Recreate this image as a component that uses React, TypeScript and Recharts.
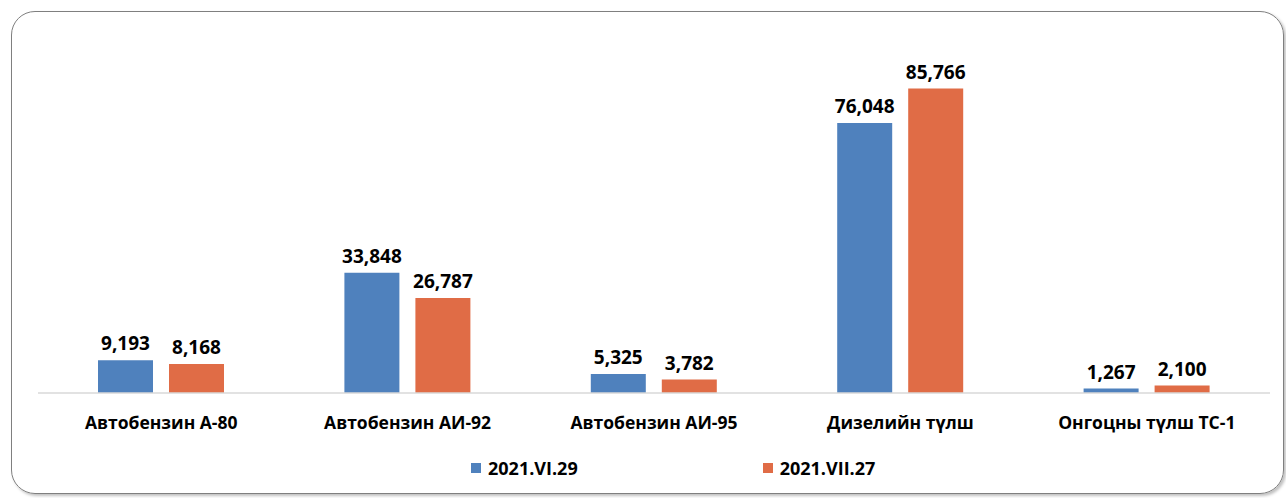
import { BarChart, Bar, XAxis, YAxis, LabelList } from "recharts";

const categories = [
  "Автобензин А-80",
  "Автобензин АИ-92",
  "Автобензин АИ-95",
  "Дизелийн түлш",
  "Онгоцны түлш ТС-1",
];
const june = [9193, 33848, 5325, 76048, 1267];
const july = [8168, 26787, 3782, 85766, 2100];
const seriesNames = ["2021.VI.29", "2021.VII.27"];

const BLUE = "#4F81BD";
const ORANGE = "#E06C46";
const FONT = "'Open Sans', sans-serif";

const data = categories.map((name, i) => ({ name, june: june[i], july: july[i] }));

const fmt = (v: number) => v.toLocaleString("en-US");

function Legend() {
  const items = [
    { label: seriesNames[0], color: BLUE },
    { label: seriesNames[1], color: ORANGE },
  ];
  return (
    <div
      style={{
        position: "absolute",
        top: 456,
        left: 471,
        display: "flex",
        gap: 185,
        fontFamily: FONT,
        fontWeight: 700,
        fontSize: 18,
        color: "#000",
      }}
    >
      {items.map((it) => (
        <div key={it.label} style={{ display: "flex", alignItems: "center", gap: 7 }}>
          <span style={{ width: 10, height: 10, background: it.color, display: "inline-block" }} />
          <span>{it.label}</span>
        </div>
      ))}
    </div>
  );
}

export default function App() {
  return (
    <div style={{ position: "absolute", top: 0, left: 0, width: 1286, height: 498, background: "#fff" }}>
      <div
        style={{
          position: "absolute",
          left: 11,
          top: 11,
          width: 1273,
          height: 483,
          border: "1.5px solid #7f7f7f",
          borderRadius: 24,
          boxShadow: "2px 2px 3px rgba(0,0,0,0.25)",
          boxSizing: "border-box",
        }}
      />
      <div style={{ position: "absolute", top: 0, left: 0 }}>
        <BarChart
          width={1286}
          height={498}
          data={data}
          margin={{ top: 38, right: 16, left: 38, bottom: 75 }}
          barGap={16}
          barSize={55}
        >
          <XAxis
            dataKey="name"
            height={30}
            axisLine={{ stroke: "#d9d9d9", strokeWidth: 1.5 }}
            tickLine={false}
            interval={0}
            tick={{ fontFamily: FONT, fontWeight: 700, fontSize: 17.5, fill: "#000" }}
            dy={16}
          />
          <YAxis hide domain={[0, 100000]} />
          <Bar dataKey="june" fill={BLUE} isAnimationActive={false}>
            <LabelList
              dataKey="june"
              position="top"
              offset={10}
              formatter={(v: number) => fmt(v)}
              style={{ fontFamily: FONT, fontWeight: 700, fontSize: 19, fill: "#000" }}
            />
          </Bar>
          <Bar dataKey="july" fill={ORANGE} isAnimationActive={false}>
            <LabelList
              dataKey="july"
              position="top"
              offset={10}
              formatter={(v: number) => fmt(v)}
              style={{ fontFamily: FONT, fontWeight: 700, fontSize: 19, fill: "#000" }}
            />
          </Bar>
        </BarChart>
      </div>
      <Legend />
    </div>
  );
}
